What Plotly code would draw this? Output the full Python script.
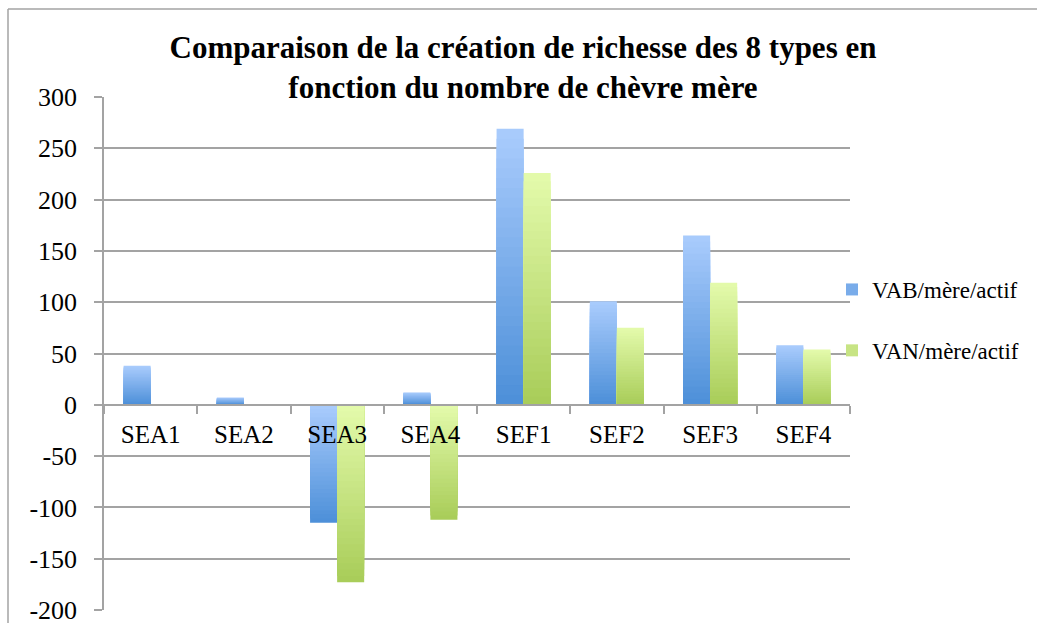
import plotly.graph_objects as go

# Data
categories = ["SEA1", "SEA2", "SEA3", "SEA4", "SEF1", "SEF2", "SEF3", "SEF4"]
vab = [38, 7, -115, 12, 269, 101, 165, 58]
van = [-0.8, -0.8, -173, -112, 226, 75, 119, 54]
y_ticks = [-200, -150, -100, -50, 0, 50, 100, 150, 200, 250, 300]
y_tick_text = [str(v) for v in y_ticks]

series = [
    # name, values, light end, dark end, bar offset
    ("VAB/mère/actif", vab, (170, 204, 253), (76, 143, 216), -0.29),
    ("VAN/mère/actif", van, (228, 251, 172), (168, 204, 88), 0.0),
]

FONT = "Liberation Serif"
GRID = "#a3a3a3"
N_LAYERS = 28  # stacked overlays give each bar a vertical gradient

# plot area in pixels
L, R, T, B = 104, 850, 97, 610
W, H = 1037, 623


def mix(a, b, t):
    return "rgb({},{},{})".format(*[round(a[i] + (b[i] - a[i]) * t) for i in range(3)])


fig = go.Figure()
for name, vals, light, dark, off in series:
    for k in range(N_LAYERS):
        frac = (N_LAYERS - k) / N_LAYERS
        t = (N_LAYERS - k - 0.5) / N_LAYERS
        colors = [mix(dark, light, t) if v >= 0 else mix(light, dark, t) for v in vals]
        fig.add_trace(go.Bar(
            x=categories,
            y=[v * frac for v in vals],
            name=name,
            legendgroup=name,
            showlegend=(k == N_LAYERS // 2),
            marker=dict(color=colors, line=dict(width=0)),
            width=0.29,
            offset=off,
            hoverinfo="skip" if k else "x+y",
        ))

px_x = lambda p: (p - L) / (R - L)
px_y = lambda p: (B - p) / (B - T)

fig.update_layout(
    width=W,
    height=H,
    barmode="overlay",
    paper_bgcolor="white",
    plot_bgcolor="white",
    margin=dict(l=L, r=W - R, t=T, b=H - B, autoexpand=False),
    font=dict(family=FONT, color="black"),
    title=dict(
        text="Comparaison de la création de richesse des 8 types en<br>fonction du nombre de chèvre mère",
        font=dict(family=FONT, size=31, color="black", weight="bold"),
        x=523 / W,
        xanchor="center",
        xref="container",
        y=1 - 58 / H,
        yanchor="middle",
        yref="container",
    ),
    xaxis=dict(
        type="category",
        anchor="free",
        position=0.4,
        showline=True,
        linecolor=GRID,
        linewidth=1.5,
        ticks="outside",
        tickson="boundaries",
        ticklen=8,
        tickcolor=GRID,
        tickwidth=1.5,
        showgrid=False,
        tickfont=dict(family=FONT, size=25, color="black"),
        ticklabelstandoff=7,
    ),
    yaxis=dict(
        range=[-200, 300],
        tickvals=y_ticks,
        ticktext=y_tick_text,
        showline=True,
        linecolor=GRID,
        linewidth=1.5,
        ticks="outside",
        ticklen=8,
        tickcolor=GRID,
        tickwidth=1.5,
        showgrid=True,
        gridcolor=GRID,
        gridwidth=1.5,
        zeroline=False,
        tickfont=dict(family=FONT, size=26, color="black"),
        ticklabelstandoff=12,
        ticklabeloverflow="allow",
    ),
    legend=dict(
        xref="container",
        yref="container",
        x=832 / W,
        xanchor="left",
        y=1 - 320 / H,
        yanchor="middle",
        font=dict(family=FONT, size=23, color="black"),
        tracegroupgap=28,
        itemwidth=30,
        bgcolor="rgba(0,0,0,0)",
    ),
    shapes=[
        # outer chart frame: left and top edges
        dict(type="line", xref="paper", yref="paper",
             x0=px_x(8), x1=px_x(8), y0=px_y(W), y1=px_y(9),
             line=dict(color=GRID, width=1.5), layer="below"),
        dict(type="line", xref="paper", yref="paper",
             x0=px_x(8), x1=px_x(W + 5), y0=px_y(9), y1=px_y(9),
             line=dict(color=GRID, width=1.5), layer="below"),
    ],
)

fig.write_html("out.html")
